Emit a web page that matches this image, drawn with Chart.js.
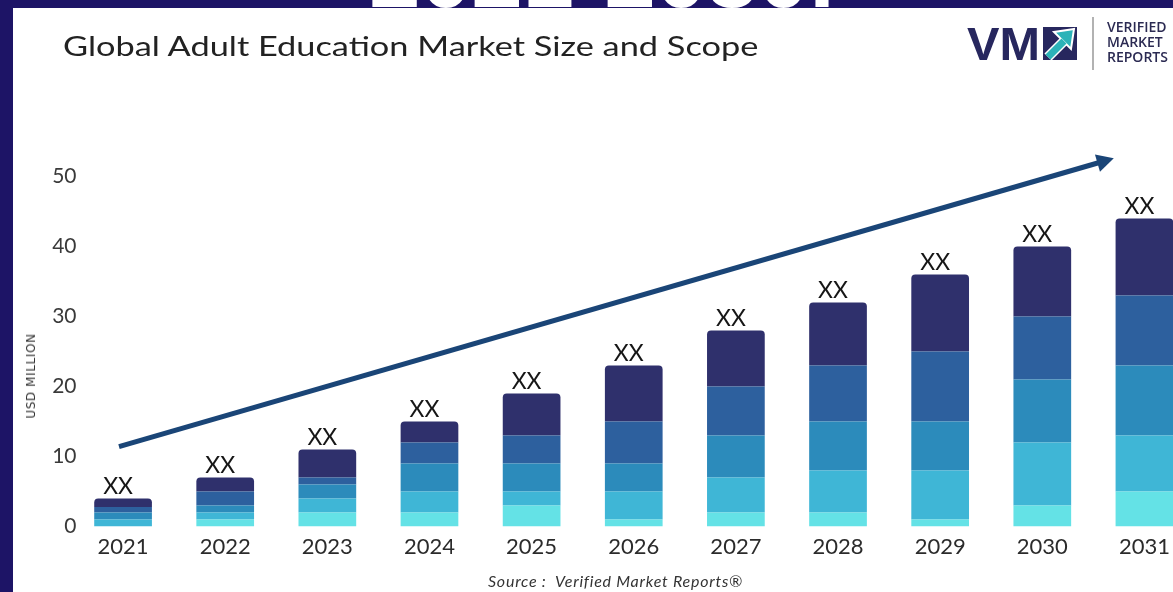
<!DOCTYPE html>
<html>
<head>
<meta charset="utf-8">
<script src="https://cdn.jsdelivr.net/npm/chart.js@4.4.0/dist/chart.umd.min.js"></script>
<style>
html, body { margin: 0; padding: 0; background: #fff; overflow: hidden; width: 1173px; height: 592px; }
#wrap { position: relative; width: 1173px; height: 592px; overflow: hidden; background: #fff; }
#chart { position: absolute; left: 0; top: 0; }
.frameL { position: absolute; left: 0; top: 0; width: 13px; height: 592px; background: #1d1466; }
.frameT { position: absolute; left: 0; top: 0; width: 1173px; height: 8px; background: #1d1466; overflow: hidden; }
.banner { position: absolute; left: 0; top: -71px; width: 1204px; text-align: center;
  font: bold 92px "Liberation Sans"; line-height: 92px; color: #fff; white-space: nowrap; }
#title { position: absolute; left: 63px; top: 31px; font: 26px Lato; line-height: 1.2; color: #222;
  white-space: nowrap; transform-origin: 0 50%; }
#source { position: absolute; left: 488px; top: 571px; font: italic 16px Lato; line-height: 1.2; color: #333; white-space: nowrap; }
#ytitle { position: absolute; left: 31px; top: 376px; transform: translate(-50%, -50%) rotate(-90deg);
  font: 12px "DejaVu Sans"; letter-spacing: 0.6px; color: #333; white-space: nowrap; }
#logo { position: absolute; left: 960px; top: 10px; }
</style>
</head>
<body>
<div id="wrap">
  <canvas id="chart" width="1210" height="592"></canvas>
  <div id="title">Global Adult Education Market Size and Scope</div>
  <div id="source">Source :&nbsp; Verified Market Reports®</div>
  <div id="ytitle">USD MILLION</div>
  <svg id="logo" width="213" height="70" viewBox="960 10 213 70">
    <text x="967" y="60" font-family="Liberation Sans" font-weight="bold" font-size="46" fill="#27275e" textLength="73" lengthAdjust="spacingAndGlyphs">VM</text>
    <rect x="1043" y="27" width="34" height="33" fill="#27275e"/>
    <line x1="1048" y1="57" x2="1064" y2="41" stroke="#fff" stroke-width="10"/>
    <polygon points="1074,29 1054,32 1071,49" fill="#2bb3b8" stroke="#fff" stroke-width="2"/>
    <line x1="1048" y1="57" x2="1064" y2="41" stroke="#2bb3b8" stroke-width="7"/>
    <line x1="1093" y1="17" x2="1093" y2="70" stroke="#999" stroke-width="1.5"/>
    <text x="1107" y="32" font-family="Open Sans" font-weight="600" font-size="14" fill="#2b2a52">VERIFIED</text>
    <text x="1107" y="47" font-family="Open Sans" font-weight="600" font-size="14" fill="#2b2a52">MARKET</text>
    <text x="1107" y="62" font-family="Open Sans" font-weight="600" font-size="14" fill="#2b2a52">REPORTS</text>
  </svg>
  <div class="frameL"></div>
  <div class="frameT"><div class="banner">2021-2030.</div></div>
</div>
<script>
// categories and stacked segments, bottom (lightest) to top (darkest)
var years = ['2021', '2022', '2023', '2024', '2025', '2026', '2027', '2028', '2029', '2030', '2031'];
var seg1 = [0,   1, 2, 2, 3, 1, 2, 2, 1,  3,  5];
var seg2 = [1,   1, 2, 3, 2, 4, 5, 6, 7,  9,  8];
var seg3 = [1,   1, 2, 4, 4, 4, 6, 7, 7,  9, 10];
var seg4 = [0.8, 2, 1, 3, 4, 6, 7, 8, 10, 9, 10];
var seg5 = [1.2, 2, 4, 3, 6, 8, 8, 9, 11, 10, 11];
var barLabels = ['XX', 'XX', 'XX', 'XX', 'XX', 'XX', 'XX', 'XX', 'XX', 'XX', 'XX'];
var yTicks = [0, 10, 20, 30, 40, 50];
// trend arrow, in axis units (category index, value)
var arrowFrom = [-0.04, 11.4];
var arrowTo = [9.7, 52.6];

var colors = ['#64e2e6', '#3fb6d6', '#2c8bbb', '#2d609e', '#2f306c'];
var series = [seg1, seg2, seg3, seg4, seg5];

var datasets = series.map(function (s, i) {
    return {
        data: s,
        backgroundColor: colors[i],
        borderWidth: 0,
        barPercentage: 0.565,
        categoryPercentage: 1,
        borderRadius: i === series.length - 1 ? { topLeft: 4, topRight: 4, bottomLeft: 0, bottomRight: 0 } : 0,
        borderSkipped: false
    };
});

var overlay = {
    id: 'overlay',
    afterLayout: function (chart) {
        // let the y tick labels reach a little into the plot, like the original
        chart.scales.y.right = 76.5;
    },
    afterDatasetsDraw: function (chart) {
        var ctx = chart.ctx;
        var xs = chart.scales.x, ys = chart.scales.y;
        var topMeta = chart.getDatasetMeta(chart.data.datasets.length - 1);
        ctx.save();
        // XX over each bar
        ctx.font = '23px Lato';
        ctx.fillStyle = '#161616';
        ctx.textAlign = 'center';
        ctx.textBaseline = 'alphabetic';
        topMeta.data.forEach(function (bar, i) {
            ctx.fillText(barLabels[i], bar.x - 5, bar.y - 5);
        });
        // trend arrow
        var x0 = xs.getPixelForValue(arrowFrom[0]), y0 = ys.getPixelForValue(arrowFrom[1]);
        var x1 = xs.getPixelForValue(arrowTo[0]), y1 = ys.getPixelForValue(arrowTo[1]);
        var ang = Math.atan2(y1 - y0, x1 - x0);
        var head = 17, half = 9;
        var bx = x1 - head * Math.cos(ang), by = y1 - head * Math.sin(ang);
        ctx.strokeStyle = '#1a4577';
        ctx.fillStyle = '#1a4577';
        ctx.lineWidth = 5;
        ctx.beginPath();
        ctx.moveTo(x0, y0);
        ctx.lineTo(bx + 2 * Math.cos(ang), by + 2 * Math.sin(ang));
        ctx.stroke();
        ctx.beginPath();
        ctx.moveTo(x1, y1);
        ctx.lineTo(bx + half * Math.sin(ang), by - half * Math.cos(ang));
        ctx.lineTo(bx - half * Math.sin(ang), by + half * Math.cos(ang));
        ctx.closePath();
        ctx.fill();
        ctx.restore();
    }
};

var chart = new Chart(document.getElementById('chart').getContext('2d'), {
    type: 'bar',
    data: { labels: years, datasets: datasets },
    options: {
        responsive: false,
        animation: false,
        devicePixelRatio: 1,
        layout: { padding: { top: 176.5, right: 14.5, left: 0, bottom: 0 } },
        plugins: { legend: { display: false }, tooltip: { enabled: false } },
        scales: {
            x: {
                stacked: true,
                grid: { display: false, drawTicks: false },
                border: { display: false },
                ticks: { color: '#2b2b2b', font: { family: 'Lato', size: 22 }, padding: 7 },
                afterFit: function (s) { s.height = 65.5; }
            },
            y: {
                stacked: true,
                min: yTicks[0],
                max: yTicks[yTicks.length - 1],
                grid: { display: false, drawTicks: false },
                border: { display: false },
                ticks: { stepSize: 10, color: '#3a3a3a', font: { family: 'Lato', size: 21 }, padding: 0 },
                afterFit: function (s) { s.width = 72; }
            }
        }
    },
    plugins: [overlay]
});

// stretch title and source line to the reference widths
var t = document.getElementById('title');
t.style.transform = 'scaleX(' + (696 / t.offsetWidth) + ')';
var s = document.getElementById('source');
s.style.letterSpacing = ((254 - s.offsetWidth) / (s.textContent.length - 1)) + 'px';
</script>
</body>
</html>
